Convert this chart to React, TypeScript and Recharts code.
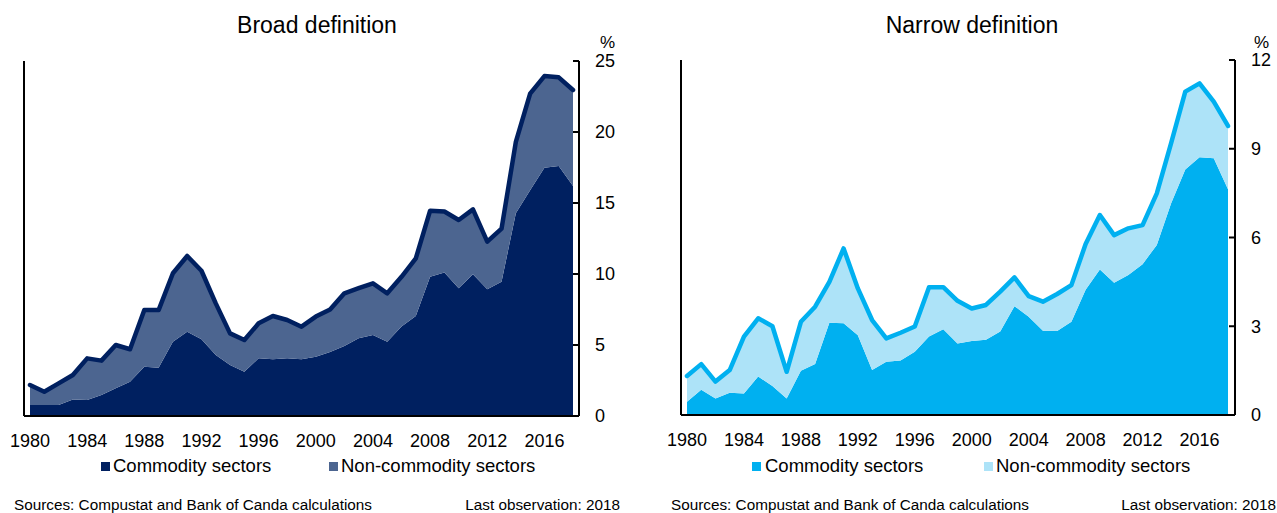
import { ComposedChart, Area, Line, XAxis, YAxis } from 'recharts';

const years = [
  1980, 1981, 1982, 1983, 1984, 1985, 1986, 1987, 1988, 1989,
  1990, 1991, 1992, 1993, 1994, 1995, 1996, 1997, 1998, 1999,
  2000, 2001, 2002, 2003, 2004, 2005, 2006, 2007, 2008, 2009,
  2010, 2011, 2012, 2013, 2014, 2015, 2016, 2017, 2018,
];

const broadCommodity = [
  0.77, 0.77, 0.77, 1.17, 1.13, 1.48, 1.95, 2.42, 3.47, 3.4,
  5.23, 5.94, 5.4, 4.3, 3.6, 3.12, 4.06, 4.0, 4.06, 4.0,
  4.18, 4.5, 4.93, 5.47, 5.7, 5.23, 6.3, 7.04, 9.81, 10.1,
  9.0, 9.98, 8.92, 9.46, 14.27, 15.9, 17.49, 17.6, 16.2,
];
const broadNonCommodity = [
  1.41, 0.94, 1.53, 1.72, 2.93, 2.42, 3.05, 2.28, 3.99, 4.06,
  4.82, 5.33, 4.83, 3.63, 2.22, 2.23, 2.47, 3.04, 2.7, 2.29,
  2.82, 3.0, 3.71, 3.53, 3.64, 3.41, 3.5, 4.06, 4.65, 4.3,
  4.8, 4.57, 3.36, 3.74, 5.03, 6.8, 6.45, 6.25, 6.76,
];

const narrowCommodity = [
  0.45, 0.85, 0.56, 0.75, 0.73, 1.3, 0.98, 0.56, 1.5, 1.72,
  3.12, 3.1, 2.7, 1.52, 1.8, 1.84, 2.14, 2.65, 2.9, 2.42,
  2.5, 2.54, 2.82, 3.68, 3.32, 2.85, 2.84, 3.15, 4.23, 4.92,
  4.47, 4.73, 5.1, 5.75, 7.15, 8.3, 8.71, 8.68, 7.63,
];
const narrowNonCommodity = [
  0.87, 0.87, 0.57, 0.77, 1.92, 1.97, 2.02, 0.9, 1.65, 1.94,
  1.38, 2.53, 1.58, 1.69, 0.79, 0.94, 0.85, 1.67, 1.42, 1.44,
  1.1, 1.18, 1.35, 0.97, 0.7, 0.98, 1.25, 1.24, 1.55, 1.84,
  1.61, 1.58, 1.32, 1.74, 2.03, 2.63, 2.5, 1.91, 2.14,
];

const xTicks = [1980, 1984, 1988, 1992, 1996, 2000, 2004, 2008, 2012, 2016];
const broadTicks = [0, 5, 10, 15, 20, 25];
const narrowTicks = [0, 3, 6, 9, 12];

const FONT = '"Liberation Sans", Arial, sans-serif';

const buildRows = (commodity: number[], non: number[]) =>
  years.map((year, i) => ({
    year,
    commodity: commodity[i],
    non: non[i],
    total: Math.round((commodity[i] + non[i]) * 100) / 100,
  }));

type PanelProps = {
  left: number;
  width: number;
  top: number;
  bottom: number;
  plotLeft: number;
  plotRight: number;
  padLeft: number;
  padRight: number;
  rows: any[];
  ticks: number[];
  max: number;
  dark: string;
  light: string;
};

const Panel = (p: PanelProps) => {
  const yAxisW = 42;
  const xAxisH = 40;
  return (
    <div style={{ position: 'absolute', left: p.left, top: 0 }}>
      <ComposedChart
        width={p.width}
        height={513}
        data={p.rows}
        margin={{
          top: p.top,
          left: p.plotLeft - p.left - 4,
          right: p.left + p.width - p.plotRight - yAxisW,
          bottom: 513 - p.bottom - xAxisH,
        }}
      >
        <XAxis
          dataKey="year"
          type="number"
          domain={[1980, 2018]}
          ticks={xTicks}
          padding={{ left: p.padLeft, right: p.padRight }}
          height={xAxisH}
          axisLine={{ stroke: '#000', strokeWidth: 2 }}
          tickLine={false}
          tickSize={0}
          tickMargin={18}
          tick={{ fontSize: 18, fill: '#000' }}
        />
        <YAxis
          yAxisId="l"
          orientation="left"
          width={4}
          domain={[0, p.max]}
          ticks={p.ticks}
          axisLine={{ stroke: '#000', strokeWidth: 2 }}
          tickLine={{ stroke: '#000', strokeWidth: 2 }}
          tickSize={-6}
          tick={false}
        />
        <YAxis
          yAxisId="r"
          orientation="right"
          width={yAxisW}
          domain={[0, p.max]}
          ticks={p.ticks}
          axisLine={{ stroke: '#000', strokeWidth: 2 }}
          tickLine={{ stroke: '#000', strokeWidth: 2 }}
          tickSize={-6}
          tickMargin={22}
          tick={{ fontSize: 18, fill: '#000' }}
        />
        <Area
          yAxisId="r"
          type="linear"
          dataKey="commodity"
          stackId="s"
          stroke="none"
          fill={p.dark}
          fillOpacity={1}
          isAnimationActive={false}
        />
        <Area
          yAxisId="r"
          type="linear"
          dataKey="non"
          stackId="s"
          stroke="none"
          fill={p.light}
          fillOpacity={1}
          isAnimationActive={false}
        />
        <Line
          yAxisId="l"
          type="linear"
          dataKey="total"
          stroke={p.dark}
          strokeWidth={4.5}
          strokeLinejoin="round"
          strokeLinecap="round"
          dot={false}
          isAnimationActive={false}
        />
      </ComposedChart>
    </div>
  );
};

const Texts = () => (
  <svg
    width={1277}
    height={513}
    style={{ position: 'absolute', left: 0, top: 0, pointerEvents: 'none' }}
    fontFamily={FONT}
  >
    <text x={317} y={33} fontSize={23} textAnchor="middle" fill="#000">Broad definition</text>
    <text x={972} y={33} fontSize={23} textAnchor="middle" fill="#000">Narrow definition</text>
    <text x={600} y={48} fontSize={17} fill="#000">%</text>
    <text x={1254} y={48} fontSize={17} fill="#000">%</text>

    <rect x={101} y={462} width={9} height={9} fill="#002060" />
    <text x={113} y={472} fontSize={18.5} fill="#000">Commodity sectors</text>
    <rect x={329} y={462} width={9} height={9} fill="#4C6590" />
    <text x={341} y={472} fontSize={18.5} fill="#000">Non-commodity sectors</text>

    <rect x={752} y={462} width={9} height={9} fill="#00B0F0" />
    <text x={765} y={472} fontSize={18.5} fill="#000">Commodity sectors</text>
    <rect x={984} y={462} width={9} height={9} fill="#ADE3F8" />
    <text x={996} y={472} fontSize={18.5} fill="#000">Non-commodity sectors</text>

    <text x={14} y={510} fontSize={15.3} fill="#000">Sources: Compustat and Bank of Canda calculations</text>
    <text x={620} y={510} fontSize={15.3} textAnchor="end" fill="#000">Last observation: 2018</text>
    <text x={671} y={510} fontSize={15.3} fill="#000">Sources: Compustat and Bank of Canda calculations</text>
    <text x={1276} y={510} fontSize={15.3} textAnchor="end" fill="#000">Last observation: 2018</text>
  </svg>
);

const App = () => {
  const broadRows = buildRows(broadCommodity, broadNonCommodity);
  const narrowRows = buildRows(narrowCommodity, narrowNonCommodity);
  return (
    <div
      style={{
        position: 'absolute',
        left: 0,
        top: 0,
        width: 1277,
        height: 513,
        overflow: 'hidden',
        background: '#fff',
        fontFamily: FONT,
      }}
    >
      <Panel
        left={0}
        width={640}
        top={61}
        bottom={416}
        plotLeft={24}
        plotRight={579}
        padLeft={6}
        padRight={6}
        rows={broadRows}
        ticks={broadTicks}
        max={25}
        dark="#002060"
        light="#4C6590"
      />
      <Panel
        left={640}
        width={637}
        top={60}
        bottom={415}
        plotLeft={681}
        plotRight={1235}
        padLeft={6}
        padRight={7}
        rows={narrowRows}
        ticks={narrowTicks}
        max={12}
        dark="#00B0F0"
        light="#ADE3F8"
      />
      <Texts />
    </div>
  );
};

export default App;
